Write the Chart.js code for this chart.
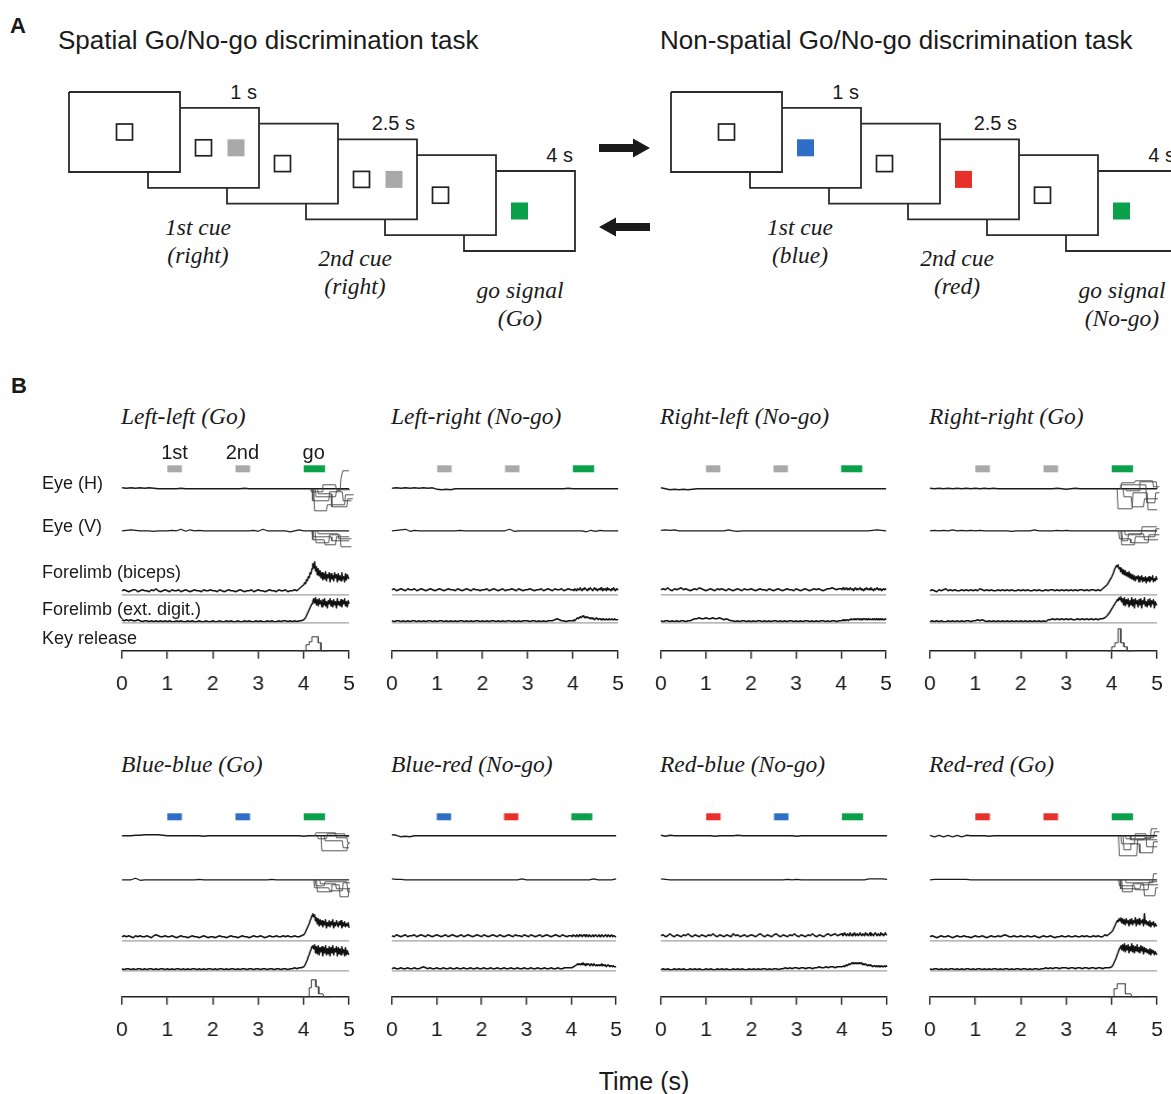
<!DOCTYPE html>
<html>
<head>
<meta charset="utf-8">
<title>Go/No-go discrimination task</title>
<script src="https://cdn.jsdelivr.net/npm/chart.js@4.4.0/dist/chart.umd.min.js"></script>
<style>
  body { margin: 0; background: #fff; }
  #fig { position: relative; width: 1171px; height: 1094px; overflow: hidden; background: #fff;
         font-family: "Liberation Sans", Arial, sans-serif; color: #1a1a1a; }
  .txt { position: absolute; white-space: nowrap; line-height: 1; }
  .wrap { position: absolute; }
</style>
</head>
<body>
<div id="fig"></div>
<script>
// ---------- data ----------
const taskTitles = ['Spatial Go/No-go discrimination task', 'Non-spatial Go/No-go discrimination task'];
const delayLabels = ['1 s', '2.5 s', '4 s'];
const screenCues = [
  ['fix', 'fix+loc', 'fix', 'fix+loc', 'fix', 'go'],
  ['fix', 'blue', 'fix', 'red', 'fix', 'go']
];
const stepLabels = [
  [['1st cue', '(right)'], ['2nd cue', '(right)'], ['go signal', '(Go)']],
  [['1st cue', '(blue)'], ['2nd cue', '(red)'], ['go signal', '(No-go)']]
];

const panelTitles = ['Left-left (Go)', 'Left-right (No-go)', 'Right-left (No-go)', 'Right-right (Go)',
                     'Blue-blue (Go)', 'Blue-red (No-go)', 'Red-blue (No-go)', 'Red-red (Go)'];
const cueKinds = [
  ['loc', 'loc', 'go'], ['loc', 'loc', 'go'], ['loc', 'loc', 'go'], ['loc', 'loc', 'go'],
  ['blue', 'blue', 'go'], ['blue', 'red', 'go'], ['red', 'blue', 'go'], ['red', 'red', 'go']
];
const cueNames = ['1st', '2nd', 'go'];
const cueOn = [1.0, 2.5, 4.0];
const cueOff = [1.32, 2.82, 4.47];
const channelNames = ['Eye (H)', 'Eye (V)', 'Forelimb (biceps)', 'Forelimb (ext. digit.)', 'Key release'];
const timeTicks = [0, 1, 2, 3, 4, 5];

// EMG, height above the grey reference line.
// "pre": 0 .. 3.95 s, one sample every 0.05 s; "post": 4.0 .. 5.0 s, one sample every 0.02 s
const preStep = 0.05, postStart = 4.0, postStep = 0.02;
const bicepsPre = [
  [4,5,4,3,4,5,5,3,4,5,4,4,3,5,4,6,4,3,4,5, 4,3,5,4,4,5,3,4,5,4,3,4,5,4,4,3,5,4,4,5,
   4,4,3,5,4,3,4,5,4,4,3,4,5,4,3,4,4,5,3,4, 5,4,4,3,4,5,4,4,3,5,4,4,5,3,4,4,5,4,6,8],
  [5,6,4,5,6,5,4,6,5,5,6,4,5,6,5,4,5,6,5,4, 5,6,5,4,5,6,5,5,4,6,5,4,5,6,5,4,6,5,5,4,
   5,5,6,4,5,6,5,4,5,6,4,5,5,6,5,4,6,5,4,5, 5,6,5,4,5,5,6,4,5,6,5,4,6,5,5,6,4,5,6,5],
  [5,6,5,7,5,4,6,5,6,7,5,6,5,4,5,6,5,7,6,5, 4,5,6,5,4,6,5,6,5,4,6,5,4,5,6,5,4,6,5,5,
   6,5,4,5,6,5,5,4,6,5,4,5,6,5,4,5,6,5,5,4, 6,5,4,5,6,5,4,5,6,5,6,5,4,5,6,6,7,6,5,6],
  [4,5,4,3,5,4,5,6,4,5,4,5,4,4,5,4,5,4,5,4, 5,4,6,5,4,5,4,5,4,4,5,4,5,4,5,4,5,4,4,5,
   4,5,4,5,4,4,5,4,5,4,4,5,4,5,5,4,5,4,5,4, 5,4,5,4,5,4,5,5,4,5,4,5,5,4,5,4,6,8,10,14],
  [4,5,4,5,4,3,5,4,5,4,4,5,4,3,5,6,5,4,4,5, 4,4,5,4,3,4,5,4,4,3,4,5,4,4,3,4,5,4,3,4,
   4,3,4,5,4,4,3,4,5,4,4,3,4,5,4,4,3,4,5,4, 4,5,4,3,4,5,4,4,5,4,4,5,4,5,4,4,5,4,4,5],
  [5,4,6,5,4,5,6,4,5,5,6,4,5,6,5,4,6,5,4,5, 6,5,4,5,6,4,5,6,5,4,5,6,4,5,6,5,4,5,6,5,
   4,6,5,4,5,6,5,4,6,5,4,5,6,5,4,6,5,5,4,6, 5,4,6,5,4,5,6,4,5,6,5,4,5,6,5,4,6,5,4,5],
  [5,6,4,5,7,5,4,6,5,4,6,5,7,5,4,6,5,4,6,5, 4,6,5,7,5,4,6,5,4,6,5,4,7,5,6,4,5,6,4,5,
   6,5,4,6,7,5,4,6,5,4,6,7,5,4,6,5,4,6,5,7, 5,4,6,5,4,6,5,7,5,4,6,5,4,6,7,5,6,7,5,6],
  [4,5,4,3,4,5,4,4,5,4,3,4,5,4,4,5,4,4,3,4, 5,4,4,5,4,3,4,5,4,4,5,4,5,6,5,4,4,5,4,4,
   5,4,4,5,4,4,5,4,3,4,5,4,4,5,4,3,4,4,5,4, 4,5,4,4,5,4,4,5,4,5,4,4,5,4,5,4,4,6,5,7]
];
const bicepsPost = [
  [10,12,11,15,14,18,17,22,21,26, 31,27,33,24,28,20,26,19,24,17, 22,15,21,16,23,14,20,17,22,13,
   21,16,19,14,22,17,20,13,21,15, 19,14,22,16,18,13,21,15,20,17, 16],
  [5,4,6,5,4,6,5,5,7,5, 4,6,5,7,6,5,4,6,5,7, 6,5,4,6,7,5,6,4,5,6, 5,7,5,4,6,5,6,4,7,5, 6,5,4,6,5,7,5,4,6,5, 6],
  [6,5,7,6,5,6,7,5,6,5, 7,6,5,6,4,6,7,5,6,5, 6,7,5,6,5,4,6,5,7,6, 5,6,5,7,6,5,4,6,5,6, 7,5,6,5,6,4,5,6,5,6, 5],
  [18,20,22,25,27,29,28,30,26,27, 23,26,21,25,20,24,19,22,18,23, 17,21,16,20,15,19,14,18,16,19,
   13,18,15,19,13,17,14,18,12,17, 14,18,13,17,15,19,13,16,14,18, 15],
  [6,7,9,11,13,15,17,20,22,25, 27,24,26,20,23,17,22,15,21,16, 20,14,19,16,21,13,18,15,20,14,
   19,16,21,13,18,15,20,17,14,19, 16,20,13,18,15,19,14,17,15,18, 13],
  [5,4,6,5,5,4,6,5,4,6, 5,6,4,5,6,5,4,6,5,4, 6,5,4,5,6,4,5,6,5,4, 5,6,4,5,6,5,4,5,6,5, 4,6,5,4,5,6,4,5,5,4, 4],
  [7,5,6,8,6,5,7,6,5,8, 6,5,7,6,8,5,6,7,5,6, 8,6,5,7,6,5,8,6,7,5, 6,8,5,7,6,5,7,8,6,5, 7,6,5,8,6,7,5,6,8,6, 6],
  [9,10,12,14,16,18,20,19,22,20, 23,18,22,17,21,16,22,18,20,15, 21,17,22,16,20,18,23,15,21,17,
   22,16,20,18,21,15,27,17,20,16, 19,15,20,14,18,16,19,14,17,15, 15]
];
const extPre = [
  [3,2,3,2,3,2,2,3,2,1,2,2,1,2,1,2,1,2,1,2, 1,2,1,1,2,1,2,1,1,2,1,2,1,1,2,1,1,2,1,1,
   2,1,1,2,1,1,2,1,2,1,1,2,1,1,2,1,2,1,1,2, 1,2,1,1,2,1,2,1,1,2,1,2,2,1,2,1,2,1,2,2],
  [2,1,2,2,1,2,1,2,1,2,2,1,2,1,2,1,2,2,1,2, 1,2,2,1,2,1,2,1,2,1,2,2,1,2,1,2,1,2,2,1,
   2,1,2,1,2,2,1,2,1,2,1,2,2,1,2,1,2,1,2,2, 2,1,2,2,1,2,1,2,1,2,2,2,3,4,3,2,2,1,2,2],
  [2,1,2,2,1,2,1,2,1,2,2,1,2,2,3,4,4,5,4,4, 5,4,4,5,4,4,5,4,3,4,3,2,2,1,2,1,2,2,1,2,
   1,2,1,2,2,1,2,1,2,1,2,2,1,2,1,2,1,2,2,1, 2,1,2,1,2,2,1,2,1,2,1,2,2,1,2,1,2,2,1,2],
  [1,2,1,2,1,2,1,1,2,1,2,1,2,1,2,1,2,2,1,2, 2,3,2,3,2,1,2,1,2,1,2,1,2,1,2,1,2,1,2,1,
   2,1,2,1,2,1,2,1,2,1,2,1,3,3,4,3,4,3,4,3, 4,3,4,3,3,4,3,4,3,4,3,4,3,4,3,4,4,5,7,10],
  [2,1,2,2,1,2,1,2,2,1,2,1,2,2,1,2,1,2,2,1, 2,1,2,1,2,2,1,2,1,2,1,2,2,1,2,1,2,1,2,2,
   1,2,1,2,2,1,2,1,2,2,1,2,1,2,2,1,2,2,1,2, 2,1,2,2,1,2,2,1,2,2,1,2,2,1,2,2,3,2,3,3],
  [2,3,2,2,3,2,2,3,2,2,3,2,2,3,4,3,2,3,2,2, 3,2,2,3,2,2,3,2,2,3,2,2,3,2,2,3,2,2,3,2,
   2,3,2,2,3,2,2,3,2,2,3,2,2,3,2,2,3,2,2,3, 2,2,3,2,2,3,2,2,3,2,2,3,2,2,3,2,2,3,3,3],
  [1,2,1,2,1,1,2,1,2,1,2,1,1,2,1,2,1,2,1,1, 2,1,2,1,1,2,1,2,1,2,1,1,2,1,2,1,2,1,1,2,
   1,2,1,2,1,2,2,1,2,1,2,2,1,2,2,3,2,3,2,3, 3,2,3,3,2,3,3,2,3,3,4,3,3,4,3,4,4,3,4,4],
  [2,1,2,2,1,2,1,2,1,2,2,1,2,1,2,1,2,2,1,2, 1,2,2,1,2,1,2,1,2,2,1,2,1,2,2,1,2,1,2,2,
   1,2,2,1,2,1,2,2,1,2,2,3,2,3,2,3,3,2,3,3, 3,2,3,3,2,3,3,2,3,3,2,3,3,2,3,3,2,3,3,3]
];
const extPost = [
  [3,4,5,7,9,11,13,15,17,19, 21,24,20,25,18,23,17,24,19,22, 16,23,18,24,17,21,15,22,19,24,
   17,22,16,23,18,21,15,24,18,21, 17,23,16,22,19,24,17,21,16,22, 19],
  [2,3,2,3,4,5,4,5,6,5, 6,7,6,5,6,5,6,5,5,4, 5,4,5,4,3,4,5,4,3,4, 4,3,4,3,4,3,3,4,3,3, 4,3,3,4,3,3,4,3,3,3, 3],
  [2,2,3,2,3,2,3,3,2,3, 3,4,3,3,4,3,4,3,4,4, 3,4,3,4,3,4,4,3,4,3, 4,3,4,4,3,4,3,4,3,4, 3,4,3,3,4,3,4,3,3,4, 3],
  [14,15,17,18,20,21,23,22,25,23, 26,21,24,18,25,17,23,19,24,16, 22,18,25,17,23,15,24,19,22,16,
   23,18,24,15,22,19,25,17,21,16, 23,18,24,16,22,19,23,15,21,18, 18],
  [4,5,7,9,11,14,16,19,21,24, 25,22,26,18,24,17,25,16,23,19, 24,15,23,18,25,16,22,17,24,15,
   23,18,25,16,22,19,24,15,23,17, 22,16,24,18,21,15,23,16,20,17, 16],
  [3,3,4,4,5,5,6,7,6,7, 6,7,6,8,6,7,5,7,6,7, 6,5,7,6,5,7,6,5,6,5, 6,5,6,5,7,5,6,5,6,4, 5,6,5,4,5,5,4,5,4,4, 4],
  [4,4,5,4,5,6,5,6,7,6, 7,8,7,8,7,8,7,8,7,8, 7,8,7,6,7,6,7,6,5,6, 5,6,5,5,4,5,5,4,5,4, 5,4,5,4,5,4,4,5,4,5, 4],
  [4,5,7,9,11,13,16,18,21,23, 25,21,26,20,27,19,25,21,26,18, 24,20,27,19,25,18,24,20,26,19,
   23,18,25,20,24,17,23,19,22,18, 21,17,22,16,21,18,20,16,19,17, 16]
];

// eye position, one sample every 0.1 s (0..5 s), offset from the resting line
const eyeStep = 0.1;
const eyeH = [
  [1,0.5,1,0.5,1,0.5,1,0.5,0,0, 0,0,0,0.5,0,0,0,0,0,0, 0,0,0,0,0,0,0,0.5,0,0, 0,0,0,0,0,0,0,0,0,0, 0,0,0,0,0,0,0,0,0,0, 0],
  [0.5,1,0.5,1,0.5,1,0.5,1,0.5,1, -0.5,-1,-0.5,-1,0,0,0,0,0,0, 0,0,0,0,0,0,0,0,0,0, 0,0,0,0,0,0,0,0,0,0.5, 0,0,0,0,0,0,0,0,0,0, 0],
  [1,0,-1,-0.5,-1,-0.5,-1,-0.5,0,0, 0,0,0,0,0,0,0,0,0,0, 0,0,0,0,0,0,0,0,0,0, 0,0,0,0,0,0,0,0,0,0, 0,0,0,0,0,0,0,0,0,0, 0],
  [0.5,0,0.5,0,0.5,0,0.5,0,0.5,0, 0.5,0,0.5,0,0.5,0,0,0,0,0, 0,0,0,0,0,0,0,0,0.5,0, -0.5,0,0.5,0,0,0,0,0,0,0, 0,0,0,0,0,0,0,0,0,0, 0],
  [0,0,0,0.5,0.5,1,1,1,1,0.5, 0,0,0,0,0,0,0,0,-0.5,0, 0,0,0,0,0,0,0,0,0,0, 0,0,0,0,0,0,0,0,0,0, -0.5,0,0,0,0,0,0,0,0,0, 0],
  [1,0.5,-1,-0.5,-1,0,0,0,0,0, 0,0,0,0,0,0,0,0,0,0, 0,0,0,0,0,0,0,0,0,0, 0,0,0,0,0,0,0,0,0,0, 0,0,0,0,0,0,0,0,0,0, 0],
  [0.5,-0.5,0.5,0,0,0,0,0,0,0, 0,0,-0.5,0,0,0,0,0.5,0,0, 0,0,0,0,0,0,0,0,0,0, -0.5,0,0,0,0,0,0,0,0,0, 0,0,0,0,0,0,0,0,0,0, 0],
  [0.5,-1,0.5,-1,0.5,-1,0.5,-1,0.5,0, 0,0,0,-0.5,0,0,0,0,0,0, 0,0,0,0,0,0,0,0,0,0, 0,0,0,0,0,0,0,0,0,0, 0,0,0,0,0,0,0,0,0,0, 0]
];
const eyeV = [
  [0,0.5,1,0.5,0,0,0,-0.5,0,0, 0,0.5,0,1.5,-0.5,1,0,0.5,0,0, 0,0,0,0,0,0,0,0,0,0.5, -0.5,1.5,0,0,0,0,0,-1,0,1, 0,0,0,0,0,0,0,0,0,0, 0],
  [0,0.5,1,1.5,-0.5,0.5,0,0,0,0, 0,0,0,0,0,0.5,0,0,0,0, 0,0,0,0,0,0,1.5,-0.5,0,0, 0,0,0,0,0,0,0,0,0,0, 0,0,0,-1,0.5,-0.5,0.5,0,0,0, 0],
  [0.5,1,0.5,1,0,0,0,0,0,0, 0,0,0,0,0,1,0,-0.5,0,0, 0,0,0,0,0,0,0,0,0,0, 0,0,0,0,0,0,0,0,0,0, 0,0,0,0,0,0,0,0.5,1,0.5, 0],
  [0,0.5,0,0.5,0,1,0,0.5,0,0.5, 0,0.5,0,0,0,0,0,0,-0.5,0, 0,0,0,1,0,0,0,0,0.5,0, 0.5,0,0,0,0,0,0,0,0,0, 0,0,0,0,0,0,0,0,0,0, 0],
  [0,0,0,1.5,-0.5,0,0,0,0,0, 0,0,0,0,0,0,0,0.5,0,0, 0,0,0,0,0,0,0,0,0,0, 0,0,0,0.5,0,0,0,0,0,0, 0,0,0,0,0,0,0,0,0,0, 0],
  [1,0.5,0.5,0,0,0,0,0,0,0, 0,0,0,0,0,0,0,0,0,0, 0,0,0,0,0,0,0,0,0,1, 0,0,0,0,0,0,0,0,0,0, 0,0,0,0,0,1,0,0,0,0, 1],
  [1,0.5,0,0,0,0,0,0,0,0, 0,0,0,0,0,0,0,0,0,0, 0,0,0,0,0,0,0,0,0.5,0, 0.5,0,0,0,0,0,0,0,0,0, 0,0,0,0,0,0,1,1,1,1, 0.5],
  [0,0.5,0.5,0.5,0.5,0.5,0.5,0.5,0.5,0, 0,0,0,0,0,0,0,0,0,0, 0,0,0,0,0,0,0,0,0,0, 0,0,0,0,0,0,0,0,0,0, 0,0,0,0,0,0,0,0,0,0, 0]
];

// single-trial eye traces after the go signal, [time s, offset]
const eyeHTrials = [
  [[[4.18,0],[4.2,-12],[4.55,-12],[4.57,-3],[4.85,-3],[4.87,-12],[5.05,-12]],
   [[4.22,0],[4.24,-22],[4.5,-22],[4.52,-16],[4.9,-16],[4.92,-6],[5.1,-6]],
   [[4.25,0],[4.27,-8],[4.7,-8],[4.72,-2],[4.8,-2],[4.82,10],[4.86,18],[5.0,18],[5.02,6],[5.05,-4]],
   [[4.3,0],[4.32,-5],[4.6,-5],[4.62,-18],[4.95,-18],[4.97,-10],[5.08,-10]],
   [[4.15,0],[4.17,-3],[4.4,-3],[4.42,4],[4.7,4],[4.72,-1],[5.02,-1]]],
  [], [],
  [[[4.12,0],[4.14,-20],[4.45,-20],[4.47,-4],[4.78,-4],[4.8,-21],[5.0,-21]],
   [[4.2,0],[4.22,6],[4.5,6],[4.52,8],[4.9,8],[4.92,2],[5.05,2],[5.07,18]],
   [[4.25,0],[4.27,-8],[4.43,-8],[4.45,-18],[4.7,-18],[4.72,-10],[5.02,-10]],
   [[4.18,0],[4.2,4],[4.75,4],[4.77,-14],[4.95,-14],[4.97,-4],[5.05,-4]],
   [[4.3,0],[4.32,-2],[4.6,-2],[4.62,7],[4.98,7],[5.0,0]]],
  [[[4.3,0],[4.32,-3],[4.5,-3],[4.52,2],[4.9,2],[4.92,-1],[5.0,-1]],
   [[4.38,0],[4.4,-15],[4.95,-15],[4.97,-8],[5.0,-8],[5.02,2]],
   [[4.25,0],[4.27,3],[4.7,3],[4.72,-2],[4.95,-2],[4.97,-7],[5.02,-7],[5.04,0]],
   [[4.45,0],[4.47,-5],[4.85,-5],[4.87,-12],[5.0,-12]]],
  [], [],
  [[[4.15,0],[4.17,-20],[4.55,-20],[4.57,-4],[5.0,-4]],
   [[4.25,0],[4.27,-14],[4.4,-14],[4.42,-8],[4.6,-8],[4.62,-17],[4.9,-17],[4.92,-6],[5.02,-6]],
   [[4.3,0],[4.32,-3],[4.85,-3],[4.87,7],[5.0,7],[5.02,-12],[5.05,-12]],
   [[4.2,0],[4.22,-8],[4.5,-8],[4.52,2],[4.75,2],[4.77,-11],[5.0,-11]],
   [[4.4,0],[4.42,-4],[4.7,-4],[4.72,-2],[4.92,-2],[4.94,4],[5.05,4]]]
];
const eyeVTrials = [
  [[[4.2,0],[4.22,-6],[4.6,-6],[4.62,-10],[5.0,-10],[5.02,-2]],
   [[4.25,0],[4.27,-12],[4.55,-12],[4.57,-4],[4.8,-4],[4.82,-16],[5.05,-16]],
   [[4.3,0],[4.32,-3],[4.75,-3],[4.77,-8],[5.05,-8],[5.07,0]],
   [[4.18,0],[4.2,-9],[4.45,-9],[4.47,-14],[4.7,-14],[4.72,-6],[5.0,-6]]],
  [], [],
  [[[4.15,0],[4.17,-8],[4.4,-8],[4.42,-12],[4.8,-12],[4.82,-4],[5.05,-4]],
   [[4.2,0],[4.22,-14],[4.5,-14],[4.52,-6],[4.95,-6],[4.97,2],[5.05,2]],
   [[4.28,0],[4.3,-4],[4.65,-4],[4.67,4],[5.0,4],[5.02,-2]],
   [[4.22,0],[4.24,-10],[4.35,-10],[4.37,-3],[4.7,-3],[4.72,-9],[5.02,-9]]],
  [[[4.22,0],[4.24,-8],[4.55,-8],[4.57,-11],[4.85,-11],[4.87,-3],[5.02,-3]],
   [[4.28,0],[4.3,-12],[4.6,-12],[4.62,-5],[4.78,-5],[4.8,-17],[4.98,-17],[5.0,-8]],
   [[4.35,0],[4.37,-4],[4.7,-4],[4.72,-9],[5.02,-9],[5.04,0]],
   [[4.25,0],[4.27,-6],[4.45,-6],[4.47,-2],[4.95,-2],[4.97,-12],[5.02,-12]]],
  [], [],
  [[[4.15,0],[4.17,-6],[4.5,-6],[4.52,-10],[4.8,-10],[4.82,-2],[5.0,-2]],
   [[4.22,0],[4.24,-12],[4.45,-12],[4.47,-4],[4.7,-4],[4.72,-16],[4.95,-16],[4.97,-8],[5.02,-8]],
   [[4.3,0],[4.32,-3],[4.9,-3],[4.92,6],[5.0,6],[5.02,-3]],
   [[4.18,0],[4.2,-9],[4.62,-9],[4.64,-5],[5.02,-5]]]
];

// key release histogram, [time s, height]
const keyRelease = [
  [[3.9,0],[4.05,0],[4.05,6],[4.12,6],[4.12,9],[4.18,9],[4.18,14],[4.32,14],[4.32,8],[4.38,8],[4.38,0],[4.5,0]],
  [], [],
  [[3.9,0],[4.0,0],[4.0,4],[4.07,4],[4.07,8],[4.14,8],[4.14,22],[4.2,22],[4.2,8],[4.27,8],[4.27,4],[4.34,4],[4.34,0],[4.5,0]],
  [[3.9,0],[4.12,0],[4.12,9],[4.17,9],[4.17,17],[4.27,17],[4.27,10],[4.33,10],[4.33,3],[4.42,3],[4.45,0],[4.6,0]],
  [], [],
  [[3.9,0],[4.05,0],[4.05,8],[4.12,8],[4.12,13],[4.3,13],[4.3,3],[4.42,3],[4.45,0],[4.6,0]]
];

// ---------- layout and style ----------
const fig = document.getElementById('fig');
const SANS = '"Liberation Sans", Arial, sans-serif';
const SERIF = '"Liberation Serif", "Times New Roman", serif';
const INK = '#1a1a1a';
const cueColor = { loc: '#a9a9a9', blue: '#2f6ec6', red: '#e8302a', go: '#0ba14b' };

function addText(str, x, y, size, opts) {
  opts = opts || {};
  const d = document.createElement('div');
  d.className = 'txt';
  d.textContent = str;
  d.style.left = x + 'px';
  d.style.top = y + 'px';
  d.style.fontSize = size + 'px';
  d.style.fontFamily = opts.serif ? SERIF : SANS;
  if (opts.italic) d.style.fontStyle = 'italic';
  if (opts.bold) d.style.fontWeight = 'bold';
  const tx = opts.align === 'center' ? '-50%' : opts.align === 'right' ? '-100%' : '0';
  d.style.transform = 'translate(' + tx + ',-50%)';
  d.style.zIndex = 5;
  fig.appendChild(d);
  return d;
}

// ---------- panel A : task schematic ----------
const screenW = 111, screenH = 80, stepX = 79, stepY = 15.8;
const taskOrigins = [[69, 92], [671, 92]];
const labelCx = [129, 286, 451];
const labelCy = [228, 259, 291];

let svg = '<svg width="1171" height="345" style="position:absolute;left:0;top:0">';
taskOrigins.forEach(function (o, ti) {
  for (let k = 0; k < 6; k++) {
    const L = o[0] + k * stepX, T = o[1] + k * stepY, R = L + screenW, B = T + screenH;
    const topStart = k === 0 ? L : R - stepX;
    const leftStart = k === 0 ? T : B - stepY;
    svg += '<path d="M' + topStart + ' ' + T + ' H' + R + ' V' + B + ' H' + L + ' V' + leftStart +
           '" fill="none" stroke="#2a2a2a" stroke-width="1.8"/>';
    const cx = L + screenW / 2, cy = T + screenH / 2;
    const cue = screenCues[ti][k];
    if (cue.indexOf('fix') === 0) {
      svg += '<rect x="' + (cx - 8) + '" y="' + (cy - 8) + '" width="16" height="16" fill="#fff" stroke="#222" stroke-width="1.7"/>';
    }
    if (cue === 'fix+loc') {
      svg += '<rect x="' + (cx + 24) + '" y="' + (cy - 8.5) + '" width="17" height="17" fill="' + cueColor.loc + '"/>';
    } else if (cue === 'blue' || cue === 'red' || cue === 'go') {
      svg += '<rect x="' + (cx - 8.5) + '" y="' + (cy - 8.5) + '" width="17" height="17" fill="' + cueColor[cue] + '"/>';
    }
    if (k % 2 === 1) {
      addText(delayLabels[(k - 1) / 2], R - 2, T - 16, 20, { align: 'right' });
    }
  }
  addText(taskTitles[ti], o[0] - 11, 40, 26);
  stepLabels[ti].forEach(function (lines, j) {
    addText(lines[0], o[0] + labelCx[j], labelCy[j], 23.5, { serif: true, italic: true, align: 'center' });
    addText(lines[1], o[0] + labelCx[j], labelCy[j] + 28, 23.5, { serif: true, italic: true, align: 'center' });
  });
});
// arrows between the two tasks
svg += '<path d="M599 144 H633 V138.5 L650 148 L633 157.5 V152 H599 Z" fill="' + INK + '"/>';
svg += '<path d="M650 223 H616 V217.5 L599 227 L616 236.5 V231 H650 Z" fill="' + INK + '"/>';
svg += '</svg>';
fig.insertAdjacentHTML('beforeend', svg);

addText('A', 10, 26, 22, { bold: true });
addText('B', 11, 386, 22, { bold: true });

// ---------- panel B : traces ----------
const rows = [
  { axisY: 651, titleY: 417, base: { cue: 182, eyeH: 162, eyeV: 120, biceps: 56, ext: 28 } },
  { axisY: 997, titleY: 765, base: { cue: 180, eyeH: 161, eyeV: 117, biceps: 56, ext: 26 } }
];
const spanX = [[122, 349], [392, 618], [661, 886], [930, 1157],
               [122, 349], [392, 616], [661, 887], [930, 1157]];
const PAD_L = 14, PAD_R = 18, PAD_T = 16, CANVAS_H = 268;

function sampled(arr, t0, step, offset) {
  return arr.map(function (v, i) { return { x: +(t0 + i * step).toFixed(3), y: offset + v }; });
}
function emg(pre, post, offset) {
  return sampled(pre, 0, preStep, offset).concat(sampled(post, postStart, postStep, offset));
}
function pairs(arr, offset) {
  return arr.map(function (p) { return { x: p[0], y: offset + p[1] }; });
}
function trace(data, color, width) {
  return { data: data, borderColor: color, borderWidth: width, pointRadius: 0, fill: false,
           tension: 0, clip: false, borderJoinStyle: 'round' };
}

channelNames.forEach(function (name, i) {
  addText(name, 42, [483, 526, 572, 609, 638][i], 18);
});
addText('Time (s)', 644, 1081, 25, { align: 'center' });

function panelDatasets(p, b) {
  const ds = [];
  cueKinds[p].forEach(function (kind, j) {
    const d = trace([{ x: cueOn[j], y: b.cue }, { x: cueOff[j], y: b.cue }], cueColor[kind], 7);
    d.borderCapStyle = 'butt';
    ds.push(d);
  });
  ds.push(trace([{ x: 0, y: b.biceps }, { x: 5, y: b.biceps }], '#a0a0a0', 1.2));
  ds.push(trace([{ x: 0, y: b.ext }, { x: 5, y: b.ext }], '#a0a0a0', 1.2));
  eyeHTrials[p].forEach(function (tr) { ds.push(trace(pairs(tr, b.eyeH), '#444', 0.9)); });
  eyeVTrials[p].forEach(function (tr) { ds.push(trace(pairs(tr, b.eyeV), '#444', 0.9)); });
  ds.push(trace(sampled(eyeH[p], 0, eyeStep, b.eyeH), INK, 1.4));
  ds.push(trace(sampled(eyeV[p], 0, eyeStep, b.eyeV), INK, 1.2));
  ds.push(trace(emg(bicepsPre[p], bicepsPost[p], b.biceps), '#111', 1.5));
  ds.push(trace(emg(extPre[p], extPost[p], b.ext), '#111', 1.5));
  if (keyRelease[p].length) ds.push(trace(pairs(keyRelease[p], 0), '#3a3a3a', 1));
  return ds;
}

function makeChart(cv, width, p, b) {
  cv.width = width; cv.height = CANVAS_H;
  cv.style.width = width + 'px'; cv.style.height = CANVAS_H + 'px';
  return new Chart(cv, {
    type: 'line',
    data: { datasets: panelDatasets(p, b) },
    options: {
      responsive: false,
      animation: false,
      devicePixelRatio: 1,
      events: [],
      layout: { padding: { left: PAD_L, right: PAD_R, top: PAD_T, bottom: 0 } },
      plugins: { legend: { display: false }, tooltip: { enabled: false } },
      scales: {
        x: {
          type: 'linear', min: timeTicks[0], max: timeTicks[timeTicks.length - 1],
          afterBuildTicks: function (axis) { axis.ticks = timeTicks.map(function (v) { return { value: v }; }); },
          ticks: { color: INK, font: { family: SANS, size: 21 }, padding: 13, maxRotation: 0, autoSkip: false },
          grid: { drawOnChartArea: false, drawTicks: true, tickLength: 8, color: '#222', lineWidth: 1.4 },
          border: { display: true, color: '#222', width: 1.6 }
        },
        y: { display: false, min: 0, max: 200 }
      }
    }
  });
}

panelTitles.forEach(function (title, p) {
  const row = rows[p < 4 ? 0 : 1];
  const x0 = spanX[p][0], x5 = spanX[p][1];

  addText(title, x0 - 1, row.titleY, 23.5, { serif: true, italic: true });

  const wrap = document.createElement('div');
  wrap.className = 'wrap';
  const cv = document.createElement('canvas');
  wrap.appendChild(cv);
  fig.appendChild(wrap);

  // first pass to learn the plot width, second pass with the corrected canvas width
  let w = (x5 - x0) + PAD_L + PAD_R;
  let chart = makeChart(cv, w, p, row.base);
  const got = chart.chartArea.right - chart.chartArea.left;
  chart.destroy();
  w += (x5 - x0) - got;
  chart = makeChart(cv, w, p, row.base);

  // one y unit = one pixel above the time axis
  chart.options.scales.y.max = chart.chartArea.bottom - chart.chartArea.top;
  chart.update('none');
  const left = x0 - chart.chartArea.left;
  wrap.style.left = left + 'px';
  wrap.style.top = (row.axisY - chart.chartArea.bottom) + 'px';

  if (p === 0) {
    cueNames.forEach(function (nm, j) {
      const px = left + chart.scales.x.getPixelForValue((cueOn[j] + cueOff[j]) / 2);
      addText(nm, px, 452, 20, { align: 'center' });
    });
  }
});
</script>
</body>
</html>
